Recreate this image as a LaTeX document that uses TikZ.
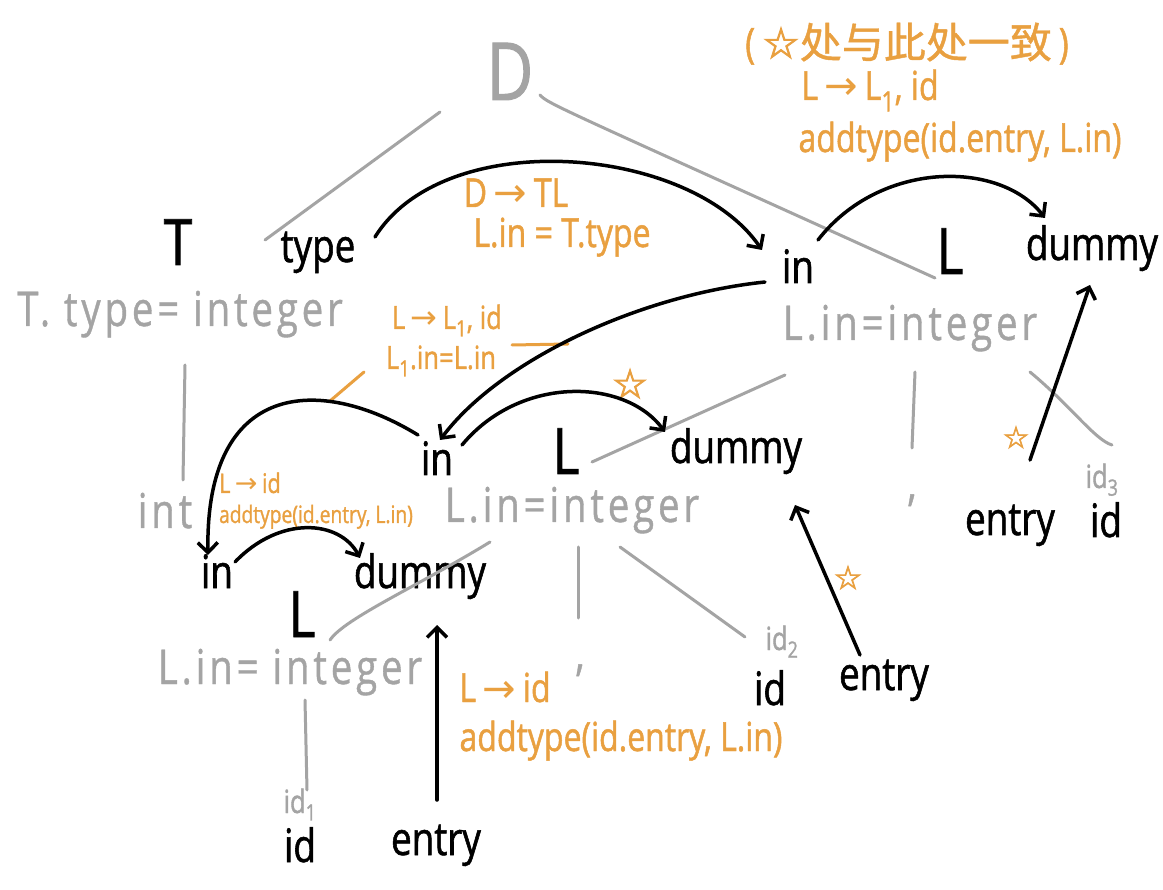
\documentclass[tikz,border=0pt]{standalone}
\usepackage{fontspec}
\setmainfont{Open Sans}
\newfontfamily\hand[FakeStretch=0.8,FakeBold=1.2]{Open Sans}
\newfontfamily\handg[FakeStretch=0.8,FakeBold=0.8,LetterSpace=8]{Open Sans}
\newfontfamily\cjk[FakeBold=1]{Noto Sans CJK SC}
\newfontfamily\symf{DejaVu Sans}
\newfontfamily\symb[FakeBold=2.5]{DejaVu Sans}
\usetikzlibrary{arrows.meta,calc}
\definecolor{gry}{HTML}{A4A4A4}
\definecolor{org}{HTML}{E9A040}
\newcommand{\fs}[1]{\fontsize{#1}{#1}\selectfont}
\newcommand{\ar}{{\symf\,→\,}}
\newcommand{\sub}[1]{\textsubscript{#1}}
\tikzset{
  t/.style={inner sep=0pt, anchor=base},
  blk/.style={t, font=\hand\fs{46}},
  bigL/.style={t, font=\hand\fs{64}, text depth=0pt},
  gr/.style={t, text=gry, font=\handg\fs{48}},
  grs/.style={t, text=gry, font=\hand\fs{32}},
  og/.style={t, text=org, font=\hand\fs{40}},
  ogm/.style={t, text=org, font=\hand\fs{32}},
  ogs/.style={t, text=org, font=\hand\fs{24}},
  star/.style={t, text=org, font=\symb\fs{#1}},
  gline/.style={draw=gry, line width=3pt, line cap=round},
  oline/.style={draw=org, line width=3pt, line cap=round},
  arr/.style={draw=black, line width=3.5pt, line cap=round,
    -{Straight Barb[length=10pt,width=20pt,line width=3.5pt]}},
}
\begin{document}
\begin{tikzpicture}[x=1pt,y=-1pt]
\useasboundingbox[fill=white] (0,0) rectangle (1163,890);

% ---- black nodes
\node[bigL] (T) at (178,265) {T};
\node[blk] (type) at (318,262) {type};
\node[blk] (in1) at (798,283) {in};
\node[bigL] (L1) at (950,274) {L};
\node[blk] (dummy1) at (1092,260) {dummy};
\node[blk] (in2) at (437,475) {in};
\node[bigL] (L2) at (566,474) {L};
\node[blk] (dummy2) at (736,463) {dummy};
\node[blk] (in3) at (217,588) {in};
\node[blk] (dummy3) at (420,588) {dummy};
\node[bigL] (L3) at (302,637) {L};
\node[blk] (idb1) at (300,862) {id};
\node[blk] (entryb1) at (436,855) {entry};
\node[blk] (idb2) at (770,705) {id};
\node[blk] (entryb2) at (884,690) {entry};
\node[blk] (entryr) at (1010,535) {entry};
\node[blk] (idr) at (1106,537) {id};

% ---- gray nodes
\node[t, text=gry, font=\hand\fs{80}, text depth=0pt] (D) at (510,100) {D};
\node[gr] (Ttype) at (180,326) {T. type= integer};
\node[gr] (Lin1) at (910,340) {L.in=integer};
\node[gr] (comma1) at (912,500) {,};
\node[grs, text depth=0pt] (id3) at (1102,488) {id\sub{3}};
\node[gr] (int) at (165,528) {int};
\node[gr] (Lin2) at (572,522) {L.in=integer};
\node[gr] (Lin3) at (290,684) {L.in= integer};
\node[gr] (comma2) at (580,670) {,};
\node[grs, text depth=0pt] (id2) at (782,650) {id\sub{2}};
\node[grs, text depth=0pt] (id1) at (300,813) {id\sub{1}};

% ---- orange labels
\node[og, text depth=0pt] (r1a) at (516,207) {D\ar TL};
\node[og] (r1b) at (562,247) {L.in = T.type};
\node[og, font=\hand\fs{42}] (note) at (907,58) {(\,{\symb ☆}{\cjk 处与此处一致}\,)};
\node[og] (r2a) at (870,100) {L\ar L\sub{1}, id};
\node[og] (r2b) at (960,152) {addtype(id.entry, L.in)};
\node[ogm] (r3a) at (447,329) {L\ar L\sub{1}, id};
\node[ogm] (r3b) at (441,369) {L\sub{1}.in=L.in};
\node[ogs, font=\hand\fs{27}] (r4a) at (250,493) {L\ar id};
\node[ogs] (r4b) at (316,523) {addtype(id.entry, L.in)};
\node[og] (r5a) at (505,702) {L\ar id};
\node[og] (r5b) at (621,751) {addtype(id.entry, L.in)};
\node[star=40] (s1) at (630,398) {☆};
\node[star=30] (s2) at (1016,448) {☆};
\node[star=32] (s3) at (848,589) {☆};

% ---- gray tree lines
\coordinate (gD1) at (440,112);  \coordinate (gD1e) at (265,240);
\draw[gline] (gD1) -- (gD1e);
\coordinate (gD2) at (540,95);   \coordinate (gD2e) at (935,278);
\draw[gline] (gD2) .. controls (548,104) and (560,108) .. (gD2e);
\coordinate (tv1) at (185,365); \coordinate (tv1e) at (183,480);
\draw[gline] (tv1) -- (tv1e);
\coordinate (a1) at (785,375); \coordinate (a1e) at (592,462);
\draw[gline] (a1) -- (a1e);
\coordinate (a2) at (915,372); \coordinate (a2e) at (912,448);
\draw[gline] (a2) -- (a2e);
\coordinate (a3) at (1030,372); \coordinate (a3e) at (1112,445);
\draw[gline] (a3) .. controls (1070,405) and (1095,440) .. (a3e);
\coordinate (b1) at (490,542); \coordinate (b1e) at (330,640);
\draw[gline] (b1) .. controls (420,585) and (345,618) .. (b1e);
\coordinate (b2) at (578,547); \coordinate (b2e) at (578,618);
\draw[gline] (b2) -- (b2e);
\coordinate (b3) at (620,547); \coordinate (b3e) at (745,637);
\draw[gline] (b3) -- (b3e);
\coordinate (c1) at (305,700); \coordinate (c1e) at (307,790);
\draw[gline] (c1) -- (c1e);

% ---- orange pointer lines
\coordinate (o1) at (512,345); \coordinate (o1e) at (568,344);
\draw[oline] (o1) -- (o1e);
\coordinate (o2) at (364,372); \coordinate (o2e) at (330,401);
\draw[oline] (o2) -- (o2e);

% ---- black arrows
\draw[arr] ($(type.base)+(57,-25)$) .. controls (445,125) and (690,145) .. ($(in1.base)+(-36,-33)$);
\draw[arr] ($(in1.base)+(20,-43)$) .. controls (880,160) and (1000,160) .. ($(dummy1.base)+(-47,-42)$);
\draw[arr] ($(in1.base)+(-33,-1)$) .. controls (640,295) and (500,360) .. ($(in2.base)+(3,-35)$);
\draw[arr] ($(in2.base)+(25,-30)$) .. controls (520,375) and (625,378) .. ($(dummy2.base)+(-71,-31)$);
\draw[arr] ($(in2.base)+(-19,-40)$) .. controls (320,375) and (205,380) .. ($(in3.base)+(-9,-33)$);
\draw[arr] ($(in3.base)+(18,-26)$) .. controls (280,515) and (340,520) .. ($(dummy3.base)+(-60,-30)$);
\draw[arr] ($(entryb1.base)+(1,-55)$) -- ($(dummy3.base)+(17,37)$);
\draw[arr] ($(entryb2.base)+(-24,-35)$) -- ($(dummy2.base)+(59,42)$);
\draw[arr] ($(entryr.base)+(20,-75)$) -- ($(dummy1.base)+(-2,25)$);
\end{tikzpicture}
\end{document}
